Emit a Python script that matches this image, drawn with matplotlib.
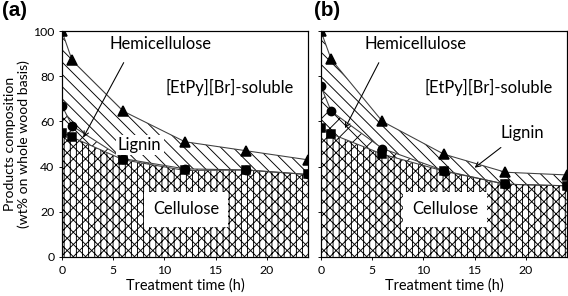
import matplotlib.pyplot as plt

plt.rcParams.update(
    {
        "font.family": ["Lato", "DejaVu Sans"],
        "hatch.linewidth": 0.6,
        "axes.linewidth": 0.8,
    }
)

# Treatment times (h) and composition (wt% on whole wood basis).
hours = [0, 1, 6, 12, 18, 24]

# Panel (a)
a_total = [100, 87, 64.5, 51, 47, 43]        # triangles: cellulose + hemicellulose + lignin
a_cel_hemi = [67, 58, 43.5, 39, 38.5, 36.5]   # circles: cellulose + hemicellulose
a_cel = [55, 53, 43, 38.3, 38.5, 36.5]        # squares: cellulose

# Panel (b)
b_total = [100, 87.5, 60, 45.5, 37.5, 36.3]
b_cel_hemi = [75.5, 64.5, 48, 38.2, 32.2, 31.5]
b_cel = [57, 54.5, 45.5, 38, 32.2, 31.5]

x_ticks = [0, 5, 10, 15, 20]
y_ticks = [0, 20, 40, 60, 80, 100]

LINE = "#404040"
TXT = 10.8


def draw_panel(ax, total, cel_hemi, cel):
    """Stacked hatched areas with the measured points on top."""
    ax.fill_between(hours, 0, cel, facecolor="white", edgecolor="black",
                    hatch="xxx|||", linewidth=0)
    ax.fill_between(hours, cel, cel_hemi, facecolor="white", edgecolor="black",
                    hatch="xx", linewidth=0)
    ax.fill_between(hours, cel_hemi, total, facecolor="white", edgecolor="black",
                    hatch="\\\\\\", linewidth=0)
    for series in (cel, cel_hemi, total):
        ax.plot(hours, series, color=LINE, linewidth=0.7)
    ax.plot(hours, total, "^", color="black", markersize=6)
    ax.plot(hours, cel_hemi, "o", color="black", markersize=5.4)
    ax.plot(hours, cel, "s", color="black", markersize=4.8)

    ax.set_xlim(0, 24)
    ax.set_ylim(0, 100)
    ax.set_xticks(x_ticks)
    ax.set_yticks(y_ticks)
    ax.tick_params(labelsize=8, length=2, width=0.6, pad=3)
    ax.set_xlabel("Treatment time (h)", fontsize=9.5, labelpad=2)
    ax.text(16.4, 75, "[EtPy][Br]-soluble", fontsize=TXT, ha="center", va="center")
    ax.text(12.1, 21, "Cellulose", fontsize=TXT, ha="center", va="center",
            bbox=dict(facecolor="white", edgecolor="none", pad=6))


fig = plt.figure(figsize=(568 / 110, 296 / 110), dpi=110)
ax_a = fig.add_axes([0.109, 0.132, 0.433, 0.763])
ax_b = fig.add_axes([0.565, 0.132, 0.433, 0.763])

draw_panel(ax_a, a_total, a_cel_hemi, a_cel)
draw_panel(ax_b, b_total, b_cel_hemi, b_cel)
ax_b.tick_params(labelleft=False)

ax_a.set_ylabel("Products composition\n(wt% on whole wood basis)", fontsize=9.2,
                labelpad=2, linespacing=1.1)

arrow = dict(arrowstyle="->", color="black", lw=0.7, mutation_scale=8)

# Panel (a) labels
ax_a.annotate("Hemicellulose", xy=(2.1, 53), xytext=(9.6, 94.5), fontsize=TXT,
              ha="center", va="center", arrowprops=dict(arrow, shrinkA=6, shrinkB=0,
                                                        relpos=(0.2, 0.0)))
ax_a.text(7.6, 49.6, "Lignin", fontsize=TXT, ha="center", va="center",
          bbox=dict(facecolor="white", edgecolor="none", pad=1.5))

# Panel (b) labels
ax_b.annotate("Hemicellulose", xy=(2.35, 57), xytext=(9.2, 94.5), fontsize=TXT,
              ha="center", va="center", arrowprops=dict(arrow, shrinkA=6, shrinkB=0,
                                                        relpos=(0.2, 0.0)))
ax_b.annotate("Lignin", xy=(15, 39.5), xytext=(19.7, 55), fontsize=TXT,
              ha="center", va="center", arrowprops=dict(arrow, shrinkA=4, shrinkB=0,
                                                        relpos=(0.2, 0.0)))

fig.text(0.003, 0.995, "(a)", fontsize=13.5, fontweight="bold",
         family="Liberation Sans", ha="left", va="top")
fig.text(0.553, 0.995, "(b)", fontsize=13.5, fontweight="bold",
         family="Liberation Sans", ha="left", va="top")

fig.savefig("out.png", dpi=110)
